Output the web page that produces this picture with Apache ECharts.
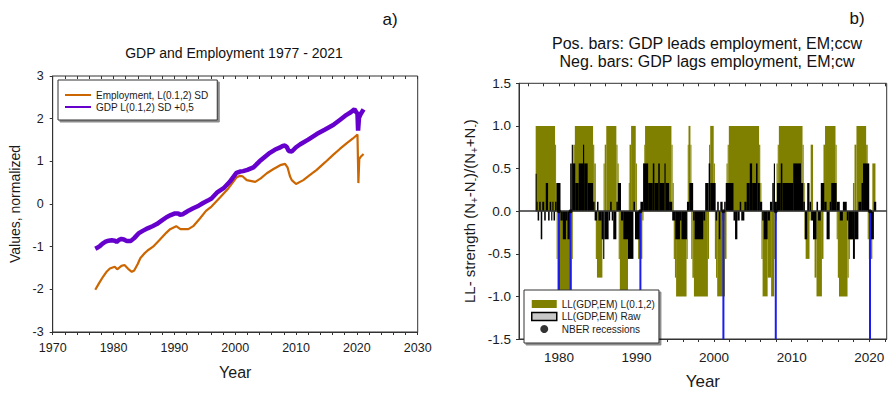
<!DOCTYPE html>
<html>
<head>
<meta charset="utf-8">
<script src="https://cdn.jsdelivr.net/npm/echarts@6/dist/echarts.min.js"></script>
<style>
  html, body { margin: 0; padding: 0; background: #fff; }
  #chart { width: 893px; height: 395px; }
</style>
</head>
<body>
<div id="chart"></div>
<script>
// ---- Panel a: normalized GDP and employment (year, value) ----
const empYears  = [1977.0, 1977.6, 1978.3, 1978.9, 1979.4, 1980.2, 1980.6, 1981.3, 1981.8, 1982.4, 1983.0, 1983.4,
                   1984.0, 1984.4, 1985.0, 1985.6, 1986.5, 1987.6, 1988.7, 1989.3, 1990.3, 1991.0, 1992.3, 1993.1,
                   1994.2, 1995.2, 1996.1, 1997.5, 1998.9, 2000.2, 2000.8, 2001.2, 2001.9, 2003.3, 2004.2, 2005.2,
                   2006.3, 2007.4, 2008.2, 2008.6, 2009.0, 2009.3, 2010.0, 2011.2, 2012.3, 2013.4, 2014.8, 2016.1,
                   2017.2, 2018.3, 2019.3, 2020.1, 2020.25, 2020.4, 2020.6, 2021.1];
const empValues = [-2.01, -1.86, -1.70, -1.58, -1.51, -1.47, -1.53, -1.45, -1.43, -1.52, -1.59, -1.56,
                   -1.40, -1.27, -1.17, -1.09, -1.00, -0.84, -0.67, -0.59, -0.52, -0.59, -0.59, -0.52,
                   -0.34, -0.16, -0.06, 0.15, 0.37, 0.62, 0.66, 0.65, 0.56, 0.52, 0.60, 0.72,
                   0.82, 0.91, 0.94, 0.86, 0.65, 0.56, 0.47, 0.56, 0.68, 0.80, 0.98, 1.15,
                   1.29, 1.42, 1.53, 1.63, 0.49, 1.06, 1.10, 1.17];

const gdpYears  = [1977.0, 1977.4, 1977.8, 1978.2, 1978.6, 1979.2, 1979.7, 1980.2, 1980.5, 1980.9, 1981.3, 1981.7,
                   1982.2, 1982.8, 1983.4, 1984.1, 1984.8, 1985.6, 1986.4, 1987.1, 1987.9, 1988.7, 1989.4, 1990.1,
                   1990.6, 1990.9, 1991.4, 1991.7, 1992.4, 1993.1, 1994.0, 1994.8, 1995.5, 1996.1, 1997.1, 1998.1,
                   1999.1, 2000.2, 2000.8, 2001.3, 2002.0, 2003.0, 2004.0, 2005.0, 2005.7, 2006.5, 2007.3, 2007.8,
                   2008.2, 2008.5, 2008.8, 2009.3, 2010.0, 2010.7, 2012.0, 2013.4, 2014.7, 2016.1, 2017.2, 2018.3,
                   2019.0, 2019.6, 2019.9, 2020.1, 2020.2, 2020.35, 2020.6, 2021.1];
const gdpValues = [-1.05, -1.02, -0.98, -0.93, -0.89, -0.86, -0.85, -0.86, -0.89, -0.84, -0.82, -0.83,
                   -0.87, -0.87, -0.80, -0.69, -0.63, -0.57, -0.52, -0.47, -0.39, -0.31, -0.26, -0.22,
                   -0.22, -0.25, -0.24, -0.21, -0.15, -0.10, -0.04, 0.03, 0.08, 0.13, 0.28, 0.37,
                   0.52, 0.73, 0.76, 0.77, 0.80, 0.86, 1.00, 1.12, 1.20, 1.27, 1.32, 1.36,
                   1.37, 1.33, 1.24, 1.23, 1.33, 1.40, 1.51, 1.64, 1.74, 1.85, 1.97, 2.09,
                   2.15, 2.22, 2.15, 2.12, 1.72, 2.02, 2.10, 2.22];

// ---- Panel b: lead-lag strength, runs of equal value [fromYear, toYear, value] ----
const llSmoothRuns = [
  [1977.0, 1979.5, 1.0], [1979.5, 1979.6, 0.78], [1979.6, 1979.7, 0.33], [1979.7, 1979.8, -0.56],
  [1979.8, 1981.65, -1.0], [1981.65, 1981.75, -0.56], [1981.75, 1981.85, 0.56], [1981.85, 1982.05, 0.78],
  [1982.05, 1984.4, 1.0], [1984.4, 1984.55, 0.78], [1984.55, 1984.75, 0.56], [1984.75, 1984.9, -0.56],
  [1984.9, 1985.6, -0.78], [1985.6, 1985.75, -0.33], [1985.75, 1985.9, 0.56], [1985.9, 1986.1, 0.78],
  [1986.1, 1987.4, 1.0], [1987.4, 1987.55, 0.78], [1987.55, 1987.7, 0.56], [1987.7, 1987.85, -0.56],
  [1987.85, 1988.9, -1.0], [1988.9, 1989.0, -0.56], [1989.0, 1989.1, 0.33], [1989.1, 1989.3, 0.78],
  [1989.3, 1989.9, 1.0], [1989.9, 1990.05, 0.56], [1990.05, 1990.2, -0.33], [1990.2, 1990.75, -0.56],
  [1990.75, 1990.9, -0.11], [1990.9, 1991.0, 0.56], [1991.0, 1991.1, 0.78], [1991.1, 1994.5, 1.0],
  [1994.5, 1994.65, 0.78], [1994.65, 1994.8, 0.33], [1994.8, 1994.95, -0.56], [1994.95, 1995.1, -0.78],
  [1995.1, 1996.45, -1.0], [1996.45, 1996.6, -0.56], [1996.6, 1996.7, 0.78], [1996.7, 1996.95, 1.0],
  [1996.95, 1997.05, 0.78], [1997.05, 1997.2, -0.56], [1997.2, 1997.4, -0.78], [1997.4, 1999.2, -1.0],
  [1999.2, 1999.35, -0.56], [1999.35, 1999.5, 0.78], [1999.5, 1999.95, 1.0], [1999.95, 2000.1, 0.56],
  [2000.1, 2000.25, -0.56], [2000.25, 2000.4, -0.78], [2000.4, 2001.4, -1.0], [2001.4, 2001.6, -0.56],
  [2001.6, 2001.75, 0.56], [2001.75, 2001.9, 0.78], [2001.9, 2005.8, 1.0], [2005.8, 2005.95, 0.78],
  [2005.95, 2006.1, 0.33], [2006.1, 2006.25, -0.56], [2006.25, 2006.9, -1.0], [2006.9, 2007.35, -0.78],
  [2007.35, 2007.75, -1.0], [2007.75, 2007.9, -0.56], [2007.9, 2008.05, -0.11], [2008.05, 2008.2, 0.56],
  [2008.2, 2008.35, 0.78], [2008.35, 2011.4, 1.0], [2011.4, 2011.55, 0.78], [2011.55, 2011.65, 0.33],
  [2011.65, 2011.8, -0.33], [2011.8, 2012.3, -0.56], [2012.3, 2012.45, -0.11], [2012.45, 2012.75, 0.78],
  [2012.75, 2012.95, -0.33], [2012.95, 2013.2, -0.78], [2013.2, 2013.9, -1.0], [2013.9, 2014.1, -0.56],
  [2014.1, 2014.3, 0.78], [2014.3, 2015.65, 1.0], [2015.65, 2015.8, 0.78], [2015.8, 2015.95, -0.33],
  [2015.95, 2016.1, -0.78], [2016.1, 2017.2, -1.0], [2017.2, 2017.35, -0.78], [2017.35, 2017.5, -0.56],
  [2017.5, 2017.9, -0.33], [2017.9, 2018.1, 0.33], [2018.1, 2018.35, 0.78], [2018.35, 2019.6, 1.0],
  [2019.6, 2019.8, 0.78], [2019.8, 2019.95, -0.33], [2019.95, 2020.4, -0.56], [2020.4, 2020.8, 0.56]
];

const llRawRuns = [
  [1977.0, 1977.1, 0.44], [1977.1, 1977.25, 0.11], [1977.25, 1977.45, -0.11], [1977.45, 1977.65, 0.11],
  [1977.65, 1977.85, -0.33], [1977.85, 1978.1, 0.11], [1978.1, 1978.3, -0.11], [1978.3, 1978.6, 0.33],
  [1978.6, 1978.8, -0.11], [1978.8, 1979.0, 0.11], [1979.0, 1979.15, -0.11], [1979.15, 1979.3, 0.11],
  [1979.3, 1979.5, -0.11], [1979.5, 1979.7, 0.11], [1979.7, 1980.2, 0.33], [1980.2, 1980.5, -0.11],
  [1980.5, 1980.9, -0.33], [1980.9, 1981.1, -0.11], [1981.1, 1981.45, -0.33], [1981.45, 1981.65, 0.56],
  [1981.65, 1981.8, 0.78], [1981.8, 1982.1, 0.56], [1982.1, 1982.55, 0.33], [1982.55, 1983.1, 0.56],
  [1983.1, 1983.25, 0.78], [1983.25, 1983.7, 0.56], [1983.7, 1984.4, 0.33], [1984.4, 1984.6, 0.11],
  [1984.6, 1984.9, -0.11], [1984.9, 1985.1, 0.11], [1985.1, 1985.5, -0.11], [1985.5, 1985.7, -0.33],
  [1985.7, 1985.85, -0.56], [1985.85, 1986.4, -0.33], [1986.4, 1986.6, -0.11], [1986.6, 1986.8, 0.11],
  [1986.8, 1987.0, -0.11], [1987.0, 1987.4, -0.33], [1987.4, 1987.6, 0.11], [1987.6, 1988.0, 0.33],
  [1988.0, 1988.3, -0.11], [1988.3, 1988.9, -0.33], [1988.9, 1989.6, -0.56], [1989.6, 1989.8, 0.11],
  [1989.8, 1990.5, -0.33], [1990.5, 1990.85, 0.11], [1990.85, 1991.5, 0.56], [1991.5, 1992.1, 0.33],
  [1992.1, 1992.3, 0.56], [1992.3, 1992.8, 0.33], [1992.8, 1993.0, 0.56], [1993.0, 1993.6, 0.33],
  [1993.6, 1993.75, 0.56], [1993.75, 1994.2, 0.33], [1994.2, 1994.6, 0.11], [1994.6, 1995.0, -0.11],
  [1995.0, 1995.6, -0.33], [1995.6, 1995.8, -0.11], [1995.8, 1996.5, -0.33], [1996.5, 1996.8, 0.11],
  [1996.8, 1997.3, 0.33], [1997.3, 1997.5, -0.11], [1997.5, 1998.6, -0.33], [1998.6, 1998.85, -0.11],
  [1998.85, 1999.3, 0.33], [1999.3, 1999.5, 0.56], [1999.5, 2000.2, 0.33], [2000.2, 2000.4, -0.11],
  [2000.4, 2000.6, 0.11], [2000.6, 2000.8, -0.33], [2000.8, 2001.1, 0.11], [2001.1, 2001.3, -0.11],
  [2001.3, 2001.5, 0.11], [2001.5, 2002.5, 0.33], [2002.5, 2002.7, -0.11], [2002.7, 2003.0, -0.33],
  [2003.0, 2003.3, -0.11], [2003.3, 2003.5, 0.11], [2003.5, 2003.9, -0.11], [2003.9, 2004.2, 0.11],
  [2004.2, 2004.6, 0.33], [2004.6, 2004.9, 0.56], [2004.9, 2005.4, 0.33], [2005.4, 2005.6, 0.56],
  [2005.6, 2005.9, 0.33], [2005.9, 2006.2, 0.11], [2006.2, 2006.4, -0.11], [2006.4, 2006.9, -0.33],
  [2006.9, 2007.2, -0.11], [2007.2, 2007.5, 0.11], [2007.5, 2007.7, 0.33], [2007.7, 2007.85, 0.56],
  [2007.85, 2008.1, 0.11], [2008.1, 2008.6, 0.33], [2008.6, 2008.8, 0.56], [2008.8, 2010.2, 0.33],
  [2010.2, 2011.2, 0.56], [2011.2, 2011.5, 0.33], [2011.5, 2011.7, 0.11], [2011.7, 2012.0, -0.33],
  [2012.0, 2012.3, 0.33], [2012.3, 2012.5, 0.11], [2012.5, 2012.75, -0.11], [2012.75, 2013.2, -0.33],
  [2013.2, 2013.4, 0.11], [2013.4, 2013.75, -0.11], [2013.75, 2014.2, 0.33], [2014.2, 2014.5, 0.11],
  [2014.5, 2014.9, -0.33], [2014.9, 2015.1, 0.11], [2015.1, 2015.8, 0.33], [2015.8, 2016.2, 0.11],
  [2016.2, 2016.6, -0.11], [2016.6, 2017.1, 0.11], [2017.1, 2017.3, -0.11], [2017.3, 2017.9, -0.33],
  [2017.9, 2018.15, -0.56], [2018.15, 2018.6, -0.33], [2018.6, 2019.0, 0.11], [2019.0, 2019.2, 0.33],
  [2019.2, 2020.0, 0.56], [2020.0, 2020.2, -0.11], [2020.2, 2020.6, -0.33], [2020.6, 2020.9, 0.11]
];

// NBER business-cycle peaks (start of recessions)
const nberPeaks = [1980.0, 1981.5, 1990.5, 2001.2, 2007.95, 2020.1];

// Axis labels
const leftYearLabels  = [1970, 1980, 1990, 2000, 2010, 2020, 2030];
const rightYearLabels = [1980, 1990, 2000, 2010, 2020];

// Series / legend names
const EMP_NAME = 'Employment, L(0.1,2) SD';
const GDP_NAME = 'GDP L(0.1,2) SD +0,5';
const SMOOTH_NAME = 'LL(GDP,EM) L(0.1,2)';
const RAW_NAME = 'LL(GDP,EM) Raw';
const NBER_NAME = 'NBER recessions';

const FONT = '"Liberation Sans", Arial, Helvetica, sans-serif';
const INK = '#1a1a1a';
const NO_MARKER = { color: 'rgba(0,0,0,0)', borderColor: 'rgba(0,0,0,0)', borderWidth: 0 };

function zip(xs, ys) { return xs.map((x, i) => [x, ys[i]]); }
function evenYears(a, b) { const out = []; for (let y = a; y <= b; y += 2) out.push(y); return out; }

const leftRange = [1970, 2030];
const rightRange = [1974.85, 2022.25];
const rightYRange = [-1.5, 1.5];

function runRenderer(color) {
  return function (params, api) {
    const x0 = api.value(0), x1 = api.value(1), v = api.value(2);
    const a = api.coord([x0, 0]);
    const b = api.coord([x1, v]);
    return {
      type: 'rect',
      shape: { x: a[0], y: Math.min(a[1], b[1]), width: Math.max(b[0] - a[0], 1), height: Math.abs(b[1] - a[1]) },
      style: { fill: color }
    };
  };
}

function dropLineRenderer(params, api) {
  const x = api.value(0);
  const a = api.coord([x, 0]);
  const b = api.coord([x, rightYRange[0]]);
  return { type: 'line', shape: { x1: a[0], y1: a[1], x2: b[0], y2: b[1] }, style: { stroke: '#1c1cf0', lineWidth: 2 } };
}

const axisLine = { show: true, onZero: false, lineStyle: { color: '#333', width: 1 } };
const hiddenAxisLine = { show: false, onZero: false };
const leftTickLabel = { fontSize: 12.5, color: INK, fontFamily: FONT };
const rightTickLabel = { fontSize: 13.5, color: INK, fontFamily: FONT };

const option = {
  animation: false,
  backgroundColor: '#fff',
  textStyle: { fontFamily: FONT },
  graphic: [
    { type: 'text', x: 390, y: 19, style: { text: 'a)', fontSize: 17, fontFamily: FONT, fill: '#111', align: 'center', verticalAlign: 'middle' } },
    { type: 'text', x: 234, y: 53, style: { text: 'GDP and Employment 1977 - 2021', fontSize: 14, fontFamily: FONT, fill: '#111', align: 'center', verticalAlign: 'middle' } },
    { type: 'text', x: 857, y: 18, style: { text: 'b)', fontSize: 17, fontFamily: FONT, fill: '#111', align: 'center', verticalAlign: 'middle' } },
    { type: 'text', x: 707, y: 43, style: { text: 'Pos. bars: GDP leads employment, EM;ccw', fontSize: 16, fontFamily: FONT, fill: '#111', align: 'center', verticalAlign: 'middle' } },
    { type: 'text', x: 707, y: 61, style: { text: 'Neg. bars: GDP lags employment, EM;cw', fontSize: 16, fontFamily: FONT, fill: '#111', align: 'center', verticalAlign: 'middle' } }
  ],
  grid: [
    { left: 52.7, top: 76, width: 365, height: 256, show: true, borderColor: '#333', borderWidth: 1, backgroundColor: 'transparent' },
    { left: 519, top: 83.3, width: 367.7, height: 260, show: true, borderColor: '#333', borderWidth: 1, backgroundColor: 'transparent' }
  ],
  xAxis: [
    { gridIndex: 0, type: 'value', min: leftRange[0], max: leftRange[1], position: 'bottom',
      axisLine: axisLine, splitLine: { show: false },
      axisTick: { show: true, length: 3, lineStyle: { color: '#333' }, customValues: evenYears(leftRange[0], leftRange[1]) },
      axisLabel: Object.assign({ margin: 9, customValues: leftYearLabels, formatter: v => String(v) }, leftTickLabel),
      name: 'Year', nameLocation: 'middle', nameGap: 32, nameTextStyle: { fontSize: 16, color: INK, fontFamily: FONT } },
    { gridIndex: 0, type: 'value', min: leftRange[0], max: leftRange[1], position: 'top',
      axisLine: hiddenAxisLine, splitLine: { show: false }, axisLabel: { show: false },
      axisTick: { show: true, inside: true, length: 3, lineStyle: { color: '#333' }, customValues: evenYears(leftRange[0], leftRange[1]) } },
    { gridIndex: 1, type: 'value', min: rightRange[0], max: rightRange[1], position: 'bottom',
      axisLine: axisLine, splitLine: { show: false },
      axisTick: { show: true, length: 3, lineStyle: { color: '#333' }, customValues: evenYears(1976, 2022) },
      axisLabel: Object.assign({ margin: 11, customValues: rightYearLabels, formatter: v => String(v) }, rightTickLabel),
      name: 'Year', nameLocation: 'middle', nameGap: 34, nameTextStyle: { fontSize: 17, color: INK, fontFamily: FONT } },
    { gridIndex: 1, type: 'value', min: rightRange[0], max: rightRange[1], position: 'top',
      axisLine: hiddenAxisLine, splitLine: { show: false }, axisLabel: { show: false },
      axisTick: { show: true, inside: true, length: 3, lineStyle: { color: '#333' }, customValues: evenYears(1976, 2022) } }
  ],
  yAxis: [
    { gridIndex: 0, type: 'value', min: -3, max: 3, interval: 1,
      axisLine: axisLine, splitLine: { show: false },
      axisTick: { show: true, length: 3, lineStyle: { color: '#333' } },
      axisLabel: Object.assign({ margin: 9 }, leftTickLabel),
      name: 'Values, normalized', nameLocation: 'middle', nameRotate: 90, nameGap: 31,
      nameTextStyle: { fontSize: 14, color: INK, fontFamily: FONT } },
    { gridIndex: 1, type: 'value', min: rightYRange[0], max: rightYRange[1], interval: 0.5,
      axisLine: axisLine, splitLine: { show: false },
      axisTick: { show: true, length: 3, lineStyle: { color: '#333' } },
      axisLabel: Object.assign({ margin: 8, formatter: v => v.toFixed(1) }, rightTickLabel),
      name: 'LL- strength (N{sub|+}-N{sub|-})/(N{sub|+}+N{sub|-})', nameLocation: 'middle', nameRotate: 90, nameGap: 40,
      nameTextStyle: { fontSize: 15, lineHeight: 20, color: INK, fontFamily: FONT,
        rich: { sub: { fontSize: 10, lineHeight: 10, verticalAlign: 'bottom', color: INK, fontFamily: FONT } } } }
  ],
  legend: [
    { left: 58, top: 80, orient: 'vertical', z: 10,
      padding: [10, 9, 8, 6], itemGap: 2, itemWidth: 26, itemHeight: 10,
      backgroundColor: '#fff', borderColor: '#333', borderWidth: 1, borderRadius: 0,
      shadowColor: 'rgba(0,0,0,0.45)', shadowBlur: 0, shadowOffsetX: 2, shadowOffsetY: 2,
      textStyle: { fontSize: 10, color: INK, fontFamily: FONT },
      selectedMode: false,
      data: [
        { name: EMP_NAME, itemStyle: NO_MARKER },
        { name: GDP_NAME, itemStyle: NO_MARKER }
      ] },
    { left: 524, top: 290, orient: 'vertical', z: 10,
      padding: [8, 4, 8, 7], itemGap: 0.5, itemWidth: 25, itemHeight: 8,
      backgroundColor: '#fff', borderColor: '#333', borderWidth: 1, borderRadius: 0,
      shadowColor: 'rgba(0,0,0,0.45)', shadowBlur: 0, shadowOffsetX: 2, shadowOffsetY: 2,
      textStyle: { fontSize: 10, lineHeight: 12, color: INK, fontFamily: FONT },
      selectedMode: false,
      data: [
        { name: SMOOTH_NAME, icon: 'rect' },
        { name: RAW_NAME, icon: 'rect', itemStyle: { color: '#c8c8c8', borderColor: '#000', borderWidth: 1.5 } },
        { name: NBER_NAME, icon: 'circle' }
      ] }
  ],
  series: [
    { name: EMP_NAME, type: 'line', xAxisIndex: 0, yAxisIndex: 0, data: zip(empYears, empValues),
      symbol: 'none', lineStyle: { color: '#cc6600', width: 2.2 }, itemStyle: { color: '#cc6600' }, z: 2 },
    { name: GDP_NAME, type: 'line', xAxisIndex: 0, yAxisIndex: 0, data: zip(gdpYears, gdpValues),
      symbol: 'none', lineStyle: { color: '#6600cc', width: 4.5 }, itemStyle: { color: '#6600cc' }, z: 3 },
    { name: SMOOTH_NAME, type: 'custom', xAxisIndex: 2, yAxisIndex: 1, data: llSmoothRuns,
      encode: { x: [0, 1], y: 2 }, renderItem: runRenderer('#808000'), itemStyle: { color: '#808000' }, z: 2,
      markLine: { silent: true, symbol: 'none', label: { show: false }, animation: false,
        lineStyle: { color: '#333', width: 1.5, type: 'solid' }, data: [{ yAxis: 0 }] } },
    { name: RAW_NAME, type: 'custom', xAxisIndex: 2, yAxisIndex: 1, data: llRawRuns,
      encode: { x: [0, 1], y: 2 }, renderItem: runRenderer('#000'), itemStyle: { color: '#000' }, z: 3 },
    { name: 'NBER drop lines', type: 'custom', xAxisIndex: 2, yAxisIndex: 1, data: nberPeaks.map(x => [x, 0]),
      encode: { x: 0, y: 1 }, renderItem: dropLineRenderer, z: 4 },
    { name: NBER_NAME, type: 'scatter', xAxisIndex: 2, yAxisIndex: 1, data: nberPeaks.map(x => [x, 0]),
      symbol: 'circle', symbolSize: 4, itemStyle: { color: '#000' }, z: 5 }
  ]
};

const chart = echarts.init(document.getElementById('chart'), null, { renderer: 'svg', width: 893, height: 395 });
chart.setOption(option);
</script>
</body>
</html>
